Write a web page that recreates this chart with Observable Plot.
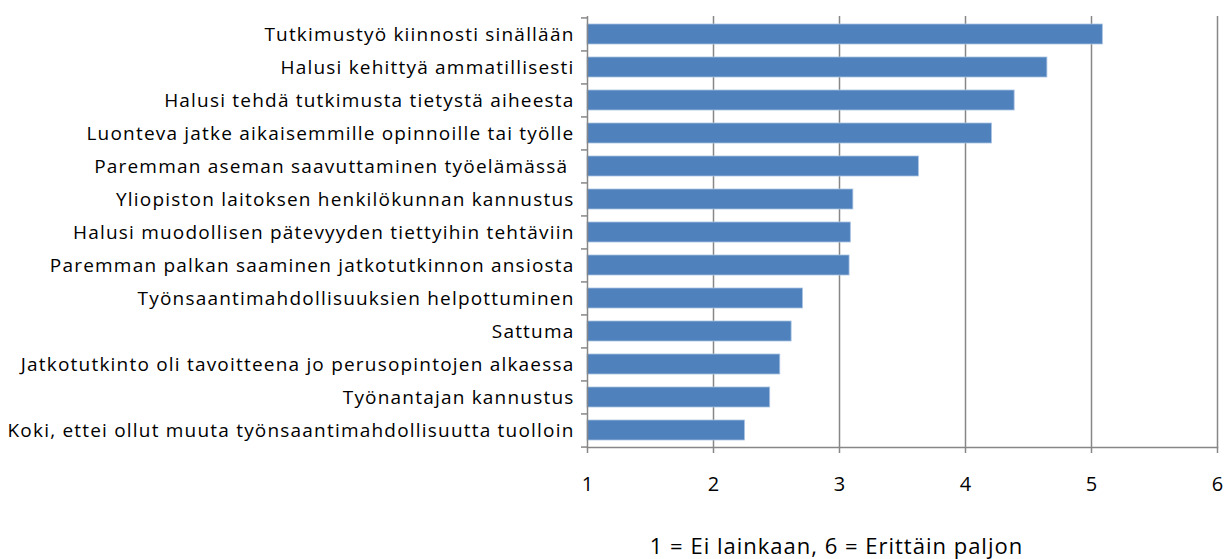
<!DOCTYPE html>
<html>
<head>
<meta charset="utf-8">
<script src="https://cdn.jsdelivr.net/npm/d3@7"></script>
<script src="https://cdn.jsdelivr.net/npm/@observablehq/plot@0.6"></script>
<style>
  html, body { margin: 0; padding: 0; background: #fff; }
  #chart svg { display: block; }
  #chart g[aria-label="y-axis tick label"] text { letter-spacing: 1.2px; white-space: pre; }
  #chart g[aria-label="text"] text { letter-spacing: 1px; }
</style>
</head>
<body>
<div id="chart"></div>
<script>
const categories = [
  "Tutkimustyö kiinnosti sinällään",
  "Halusi kehittyä ammatillisesti",
  "Halusi tehdä tutkimusta tietystä aiheesta",
  "Luonteva jatke aikaisemmille opinnoille tai työlle",
  "Paremman aseman saavuttaminen työelämässä ",
  "Yliopiston laitoksen henkilökunnan kannustus",
  "Halusi muodollisen pätevyyden tiettyihin tehtäviin",
  "Paremman palkan saaminen jatkotutkinnon ansiosta",
  "Työnsaantimahdollisuuksien helpottuminen",
  "Sattuma",
  "Jatkotutkinto oli tavoitteena jo perusopintojen alkaessa",
  "Työnantajan kannustus",
  "Koki, ettei ollut muuta työnsaantimahdollisuutta tuolloin"
];
const values = [5.09, 4.65, 4.39, 4.21, 3.63, 3.11, 3.09, 3.08, 2.71, 2.62, 2.53, 2.45, 2.25];
const xTicks = [1, 2, 3, 4, 5, 6];
const gridTicks = [2, 3, 4, 5, 6];
const caption = "1 = Ei lainkaan, 6 = Erittäin paljon";

const data = categories.map((c, i) => ({category: c, value: values[i]}));

const W = 1226, H = 559;
const mTop = 16, mBottom = 112, mLeft = 587, mRight = 9;
const step = (H - mTop - mBottom) / categories.length;
const axisColor = "#878787";
const font = "'Open Sans', Lato, sans-serif";

const chart = Plot.plot({
  width: W,
  height: H,
  marginTop: mTop,
  marginBottom: mBottom,
  marginLeft: mLeft,
  marginRight: mRight,
  style: {fontFamily: font, fontSize: "19px", color: "#000", background: "#fff"},
  x: {domain: [1, 6], nice: false},
  y: {domain: categories, paddingInner: 0.4, paddingOuter: 0.2, align: 0.5},
  marks: [
    Plot.ruleX(gridTicks, {stroke: axisColor, strokeWidth: 1.5}),
    Plot.barX(data, {x1: 1, x2: "value", y: "category", fill: "#4F81BD", stroke: "#a9c3e3", strokeWidth: 0.8}),
    Plot.ruleX([1], {stroke: axisColor, strokeWidth: 1.5}),
    Plot.ruleY(categories, {y: d => d, x1: 1, x2: 1, insetLeft: -6, dy: -step / 2, stroke: axisColor, strokeWidth: 1.5}),
    Plot.ruleY([categories[categories.length - 1]], {y: d => d, x1: 1, x2: 1, insetLeft: -6, dy: step / 2, stroke: axisColor, strokeWidth: 1.5}),
    Plot.frame({anchor: "bottom", stroke: axisColor, strokeWidth: 1.5}),
    Plot.axisX({ticks: xTicks, tickFormat: d => String(d), tickSize: 6, tickPadding: 23, stroke: axisColor, strokeWidth: 1.5, fontSize: 20, color: "#000", label: null}),
    Plot.axisY({tickSize: 0, tickPadding: 13, fontSize: 19, label: null}),
    Plot.text([caption], {frameAnchor: "bottom", dx: -66, dy: 106, fontSize: 22, fill: "#000"})
  ]
});
document.getElementById("chart").appendChild(chart);
</script>
</body>
</html>
